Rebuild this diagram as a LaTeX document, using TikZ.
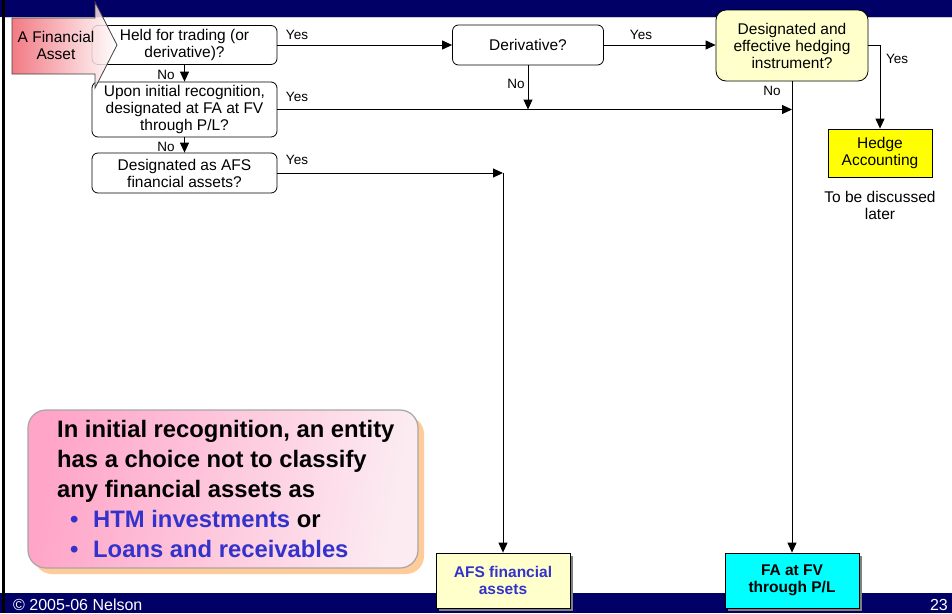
\documentclass[tikz,border=0pt]{standalone}
\usepackage{fontspec}
\setmainfont{Liberation Sans}
\usetikzlibrary{arrows.meta,shadows,calc}

\definecolor{navy}{RGB}{0,0,102}
\definecolor{paleyellow}{RGB}{255,255,204}
\definecolor{hedgeyellow}{RGB}{255,255,0}
\definecolor{fvcyan}{RGB}{0,255,255}
\definecolor{linkblue}{RGB}{51,51,204}
\definecolor{peach}{RGB}{255,204,153}
\definecolor{salmon}{RGB}{240,100,112}
\definecolor{pinkfill}{RGB}{255,165,200}
\definecolor{pinklight}{RGB}{252,236,242}

\tikzset{
  boxfont/.style={font=\fontsize{15.5}{17}\selectfont},
  question/.style={draw, line width=0.8pt, rounded corners=6pt, fill=white,
    align=center, inner sep=0pt, minimum width=185pt, boxfont},
  outcome/.style={draw, line width=0.8pt, align=center, inner sep=0pt,
    font=\fontsize{15.5}{17}\selectfont\bfseries,
    drop shadow={shadow xshift=3pt, shadow yshift=-3pt, fill=gray, opacity=1}},
  lbl/.style={font=\fontsize{13.5}{15}\selectfont, inner sep=0pt},
  flow/.style={draw, line width=1pt, -{Triangle[length=10pt,width=9pt]}},
  callfont/.style={font=\fontsize{23.8}{30}\selectfont\bfseries, inner sep=0pt, anchor=base west},
  footer/.style={font=\fontsize{16}{18}\selectfont, text=white, inner sep=0pt}
}

\begin{document}
\begin{tikzpicture}[x=1pt, y=-1pt]
\useasboundingbox (0,0) rectangle (952,613);
\fill[white] (0,0) rectangle (952,613);

% slide frame: title band, footer band, left rule
\fill[navy] (0,0) rectangle (952,17);
\draw[color=black!20, line width=1pt] (5,17.5) -- (952,17.5);
\fill[navy] (0,593) rectangle (952,613);
\fill[black] (1.5,0) rectangle (5,613);

% remark panel
\fill[peach, rounded corners=18pt] (34,416) rectangle (424,574);
\node[draw=black!35, line width=1.2pt, rounded corners=18pt,
      minimum width=390pt, minimum height=158pt, inner sep=0pt,
      left color=pinkfill, right color=pinklight, shading angle=80]
      (remark) at (223,489) {};
\node[callfont] (r1) at (57,437) {In initial recognition, an entity};
\node[callfont] (r2) at (57,467) {has a choice not to classify};
\node[callfont] (r3) at (57,497) {any financial assets as};
\node[callfont, text=linkblue] (b1) at (70,527) {\textbullet};
\node[callfont] (r4) at (93,527) {\textcolor{linkblue}{HTM investments} or};
\node[callfont, text=linkblue] (b2) at (70,557) {\textbullet};
\node[callfont, text=linkblue] (r5) at (93,557) {Loans and receivables};

% decision boxes
\node[question, minimum height=39pt] (held) at (184.5,45) {Held for trading (or\\derivative)?};
\node[question, minimum height=55pt] (upon) at (184.5,109.5) {Upon initial recognition,\\designated at FA at FV\\through P/L?};
\node[question, minimum height=40pt] (afsq) at (184.5,173) {Designated as AFS\\financial assets?};
\node[question, minimum width=151pt, minimum height=40pt] (deriv) at (528,45) {Derivative?};
\node[question, minimum width=152pt, minimum height=71pt, rounded corners=10pt,
      fill=paleyellow] (hedging) at (792,45.5) {Designated and\\effective hedging\\instrument?};

% outcomes
\node[draw, line width=0.8pt, fill=hedgeyellow, minimum width=104pt, minimum height=48pt,
      inner sep=0pt, align=center, boxfont] (hedge) at (880,153) {Hedge\\Accounting};
\node[align=center, boxfont, inner sep=0pt] (later) at (880,205) {To be discussed\\later};
\node[outcome, fill=paleyellow, text=linkblue, minimum width=134pt, minimum height=55pt]
      (afs) at (503,580.5) {AFS financial\\assets};
\node[outcome, fill=fvcyan, minimum width=134pt, minimum height=55pt]
      (fa) at (792,580.5) {FA at FV\\through P/L};

% connectors
\draw[flow] (held.south) -- (upon.north);
\draw[flow] (upon.south) -- (afsq.north);
\draw[flow] (held.east) -- (deriv.west);
\draw[flow] (deriv.east) -- (deriv.east -| hedging.west);
\draw[flow] (deriv.south) -- (deriv.south |- upon.east);
\draw[flow] (upon.east) -- (upon.east -| hedging.south);
\draw[flow] (hedging.south) -- (fa.north);
\draw[flow] (hedging.east) -| (hedge.north);
\coordinate (afsturn) at (afsq.east -| afs.north);
\draw[flow] (afsq.east) -- (afsturn);
\draw[flow] (afsturn) -- (afs.north);

% branch labels
\node[lbl] (y1) at (297,35) {Yes};
\node[lbl] (y2) at (297,97) {Yes};
\node[lbl] (y3) at (297,160) {Yes};
\node[lbl] (y4) at (641,35) {Yes};
\node[lbl] (y5) at (897,59) {Yes};
\node[lbl] (n1) at (166,75) {No};
\node[lbl] (n2) at (166,147) {No};
\node[lbl] (n3) at (516,84) {No};
\node[lbl] (n4) at (772,91) {No};

% entry arrow
\draw[draw=black!75, line width=0.8pt, fill opacity=0.85, left color=salmon, right color=white]
  (12,18) -- (95,18) -- (95,2) -- (117,45) -- (95,88) -- (95,74) -- (12,74) -- cycle;
\node[align=center, boxfont, inner sep=0pt] (asset) at (56,45) {A Financial\\Asset};

% footer
\node[footer, anchor=base west] (copy) at (13,610) {© 2005-06 Nelson};
\node[footer, anchor=base east] (page) at (948,610) {23};
\end{tikzpicture}
\end{document}
